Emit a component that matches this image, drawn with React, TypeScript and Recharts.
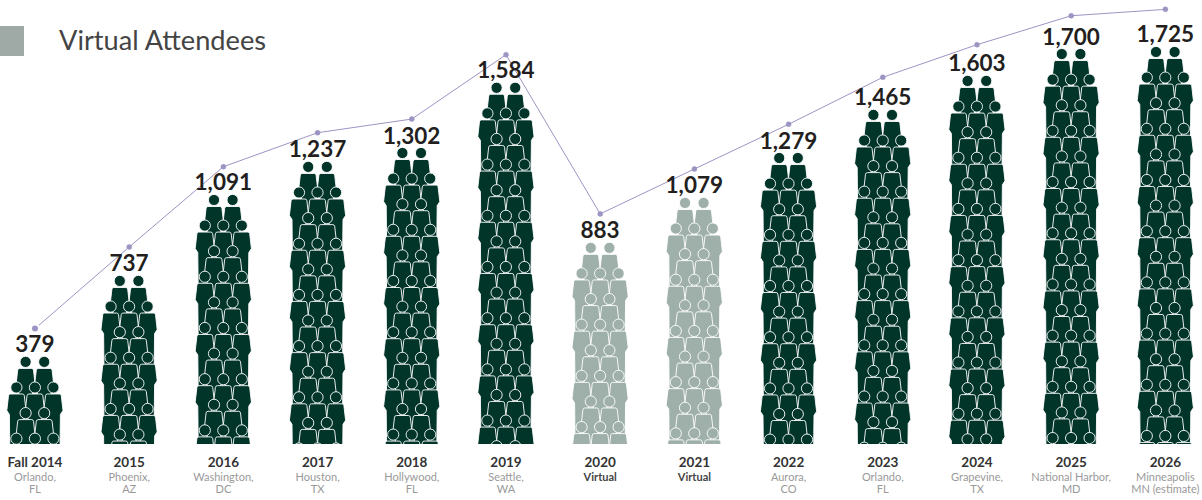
import React from 'react';
import { ComposedChart, Bar, Line, XAxis, YAxis, LabelList } from 'recharts';

const years = ['Fall 2014', '2015', '2016', '2017', '2018', '2019', '2020', '2021', '2022', '2023', '2024', '2025', '2026'];
const venues = [
    ['Orlando,', 'FL'], ['Phoenix,', 'AZ'], ['Washington,', 'DC'], ['Houston,', 'TX'], ['Hollywood,', 'FL'],
    ['Seattle,', 'WA'], ['Virtual'], ['Virtual'], ['Aurora,', 'CO'], ['Orlando,', 'FL'], ['Grapevine,', 'TX'],
    ['National Harbor,', 'MD'], ['Minneapolis', 'MN (estimate)'],
];
const attendees = [379, 737, 1091, 1237, 1302, 1584, 883, 1079, 1279, 1465, 1603, 1700, 1725];
// height of the people stacks, a bit off the printed number at the right end
const stackLevels = [382, 737, 1092, 1237, 1298, 1584, 882, 1079, 1276, 1465, 1614, 1732, 1741];
// purple line floats above the stacks
const trendLevels = [506, 864, 1216, 1365, 1425, 1707, 1009, 1206, 1402, 1608, 1751, 1878, 1906];

const DARK = '#02352a';
const LIGHT = '#9fb0ab';
const PURPLE = '#9d94c4';
const ROW_PITCH = 25.6;

const chartData = years.map((year, i) => ({
    year,
    attendees: attendees[i],
    stack: stackLevels[i],
    trend: trendLevels[i],
    label: attendees[i].toLocaleString('en-US'),
}));

const BODY = 'M-6 6.5 L6 6.5 Q7.6 6.5 7.9 8.2 L9.6 23 L7 27 L6.6 62 L-6.6 62 L-7 27 L-9.6 23 L-7.9 8.2 Q-7.6 6.5 -6 6.5 Z';

const Person: React.FC<{ cx: number; cy: number; fill: string }> = ({ cx, cy, fill }) => (
    <g transform={`translate(${cx},${cy})`} stroke="#fff" strokeWidth={0.9} fill={fill}>
        <path d={BODY} />
        <circle r={5.6} />
    </g>
);

// one column of people, rows of 2 and 3 hung from the top of the bar and cropped at the baseline
const PeopleStack = (props: any) => {
    const { x, y, width, height, index } = props;
    const fill = venues[index][0] === 'Virtual' ? LIGHT : DARK;
    const cx = x + width / 2;
    const rowCount = Math.ceil(height / ROW_PITCH) + 1;
    const people: React.ReactNode[] = [];
    for (let r = 0; r < rowCount; r++) {
        const cy = y + 5 + r * ROW_PITCH;
        const offsets = r % 2 === 0 ? [-9.3, 9.3] : [-18.5, 0, 18.5];
        offsets.forEach((o) => people.push(<Person key={`${r}-${o}`} cx={cx + o} cy={cy} fill={fill} />));
    }
    return (
        <g>
            <clipPath id={`stack-${index}`}>
                <rect x={x - 2} y={y - 2} width={width + 4} height={height + 2} />
            </clipPath>
            <g clipPath={`url(#stack-${index})`}>{people}</g>
        </g>
    );
};

const CountLabel = (props: any) => {
    const { x, y, width, value } = props;
    return (
        <text x={x + width / 2} y={y - 4.5} textAnchor="middle" fontFamily="Lato" fontWeight={700} fontSize={22.5} fill="#231f20">
            {value}
        </text>
    );
};

const YearTick = (props: any) => {
    const { x, index } = props;
    const lines = venues[index];
    const isVirtual = lines[0] === 'Virtual';
    return (
        <g fontFamily="Lato" textAnchor="middle">
            <text x={x} y={467} fontSize={13.5} fontWeight={700} fill="#333">{years[index]}</text>
            {lines.map((line, i) => (
                <text
                    key={line}
                    x={x}
                    y={481 + i * 12}
                    fontSize={11}
                    fontWeight={isVirtual ? 700 : 400}
                    fill={isVirtual ? '#444' : '#999'}
                >
                    {line}
                </text>
            ))}
        </g>
    );
};

export default function App() {
    return (
        <div style={{ position: 'fixed', left: 0, top: 0, width: 1202, height: 500, overflow: 'hidden', background: '#fff' }}>
            <div style={{ position: 'absolute', left: 0, top: 26, width: 24, height: 30, background: '#9fa9a6' }} />
            <div style={{ position: 'absolute', left: 59, top: 24, fontFamily: 'Lato', fontSize: 27.2, lineHeight: '32px', color: '#444' }}>
                Virtual Attendees
            </div>
            <ComposedChart width={1202} height={500} data={chartData} margin={{ top: 0, right: -10.5, bottom: 0, left: -12.1 }}>
                <XAxis dataKey="year" height={56} axisLine={false} tickLine={false} interval={0} tick={<YearTick />} />
                <YAxis hide domain={[0, 1947]} />
                <Line
                    dataKey="trend"
                    stroke={PURPLE}
                    strokeWidth={1}
                    dot={{ r: 2.5, fill: PURPLE, stroke: PURPLE, strokeWidth: 0.5 }}
                    isAnimationActive={false}
                />
                <Bar dataKey="stack" barSize={56} shape={<PeopleStack />} isAnimationActive={false}>
                    <LabelList dataKey="label" content={<CountLabel />} />
                </Bar>
            </ComposedChart>
        </div>
    );
}
